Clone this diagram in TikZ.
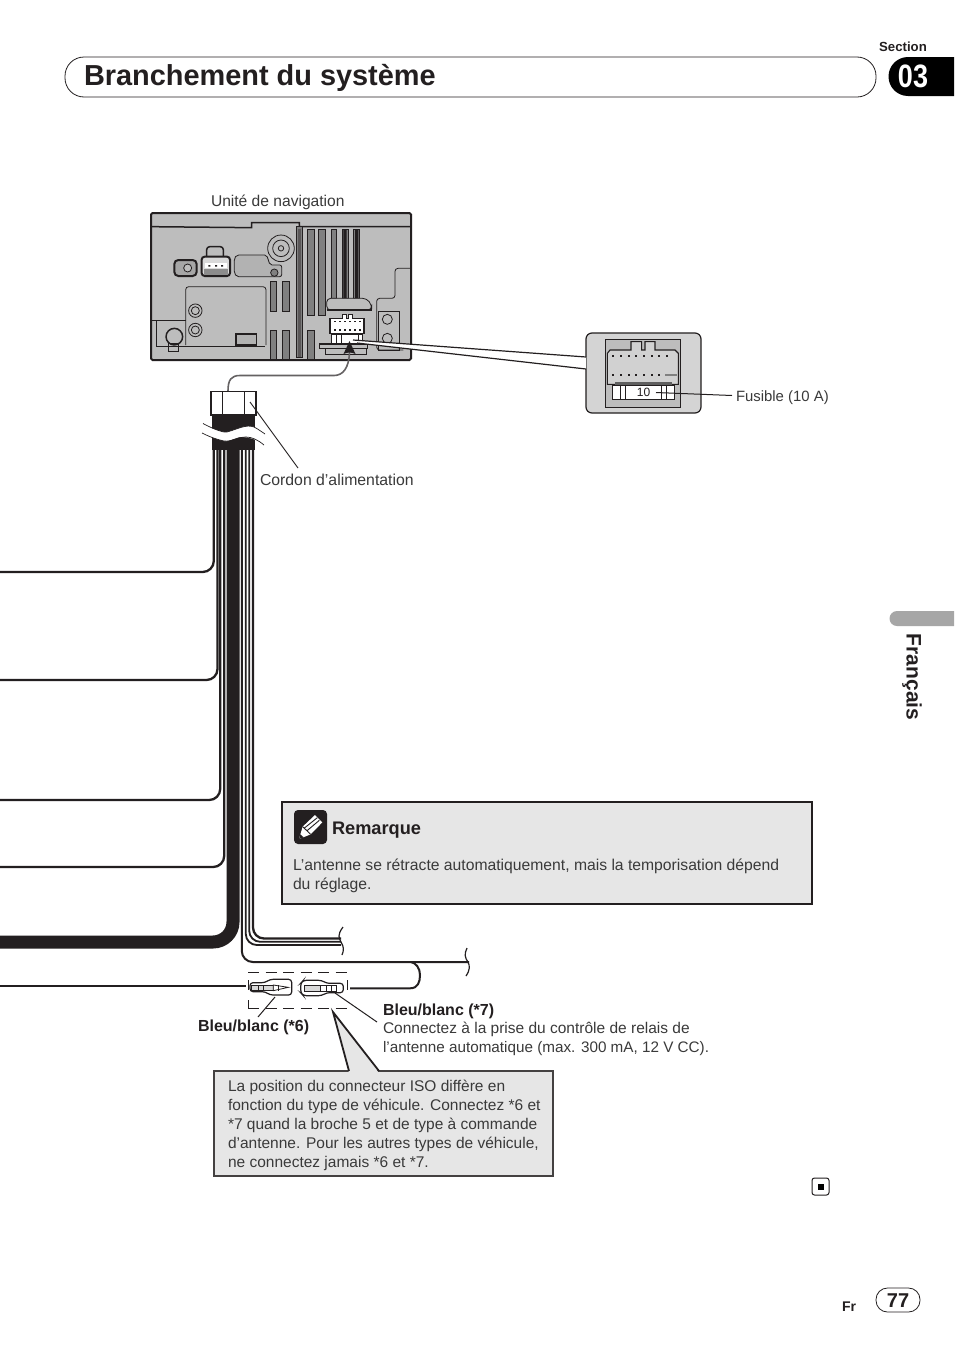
\documentclass[tikz,border=0pt]{standalone}
\usepackage{fontspec}
\setmainfont{Liberation Sans}
\definecolor{ink}{HTML}{231F20}
\definecolor{txt}{HTML}{3A3A3A}
\definecolor{plate}{HTML}{BDBDBD}
\definecolor{notegray}{HTML}{E6E6E6}
\definecolor{slotc}{HTML}{808080}
\newcommand{\fs}[1]{\fontsize{#1}{#1}\selectfont}
\tikzset{
 every node/.style={outer sep=0pt},
 lab/.style={anchor=base west,yshift=-5.5pt,inner sep=0pt,text=txt,font=\fs{15.5}},
 blab/.style={anchor=base west,yshift=-5.5pt,inner sep=0pt,text=ink,font=\fs{16}\bfseries},
 wire/.style={draw=ink,line width=2.3pt,rounded corners=11pt},
 thin line/.style={draw=ink,line width=1pt},
 slot/.style={draw=ink,line width=1pt,fill=slotc},
 dev/.style={draw=ink,line width=.8pt},
 devb/.style={draw=ink,line width=1.5pt},
}
\begin{document}
\begin{tikzpicture}[x=1pt,y=-1pt]
\useasboundingbox (0,0) rectangle (954,1352);
\fill[white] (0,0) rectangle (954,1352);
% header
\node[draw=ink,line width=.8pt,rounded corners=19pt,minimum width=811pt,minimum height=40pt,anchor=north west,inner sep=0pt] (titlebar) at (65,57) {};
\node[anchor=base west,inner sep=0pt,text=ink,font=\fs{28.9}\bfseries] (title) at (84,85.5) {Branchement du système};
\fill[black] (954,57) -- (908,57) arc[start angle=90,end angle=270,radius=19.5pt] -- (954,96) -- cycle;
\node[inner sep=0pt,text=white,font=\fs{27}\bfseries] (secnum) at (913,76) {\scalebox{1}[1.2]{03}};
\node[inner sep=0pt,text=ink,font=\fs{13.2}\bfseries] (sec) at (903,46.5) {Section};
% side tab
\fill[black!35] (954,611) -- (897,611) arc[start angle=90,end angle=270,radius=7.5pt] -- (954,626) -- cycle;
\node[inner sep=0pt,rotate=-90,text=ink,font=\fs{21}\bfseries] (lang) at (912,677) {Français};
% device
\node[draw=ink,line width=2pt,fill=plate,rounded corners=1.5pt,minimum width=260pt,minimum height=147pt,anchor=north west,inner sep=0pt] (device) at (151,213) {};
\node[lab,font=\fs{15.6}] (unit) at (211,201) {Unité de navigation};
\begin{scope}[shift={(140,200)},x=.33333pt,y=-.33333pt]
 \draw[devb] (33,80) -- (335,83) -- (335,68) -- (478,68) -- (478,80) -- (812,80);
 \foreach \a/\b/\c/\d in {470/487/80/472,503/523/88/345,535/555/88/345,573/590/88/295,607/625/88/295,640/658/88/295,503/523/390/478,390/410/243/333,427/447/243/333,390/410/390/478,427/447/390/478}
   \draw[slot] (\a,\c) rectangle (\b,\d);
 \fill[ink!75] (473,88) rectangle (484,470);
 \fill[ink] (610,88) rectangle (620,295) (645,88) rectangle (655,295);
 \draw[dev] (423,145) circle[radius=13.3pt];
 \draw[dev] (423,145) circle[radius=8.3pt];
 \draw[dev] (423,145) circle[radius=2.7pt];
 \draw[dev,fill=black!30,rounded corners=2pt] (283,175) -- (290,165) -- (380,165) -- (390,195) -- (425,195) -- (425,230) -- (290,230) -- (283,220) -- cycle;
 \draw[dev,fill=slotc] (403,218) circle[radius=3.7pt];
 \draw[devb,rounded corners=3pt] (200,170) -- (200,140) -- (250,140) -- (250,170);
 \draw[draw=ink,line width=2pt,fill=black!15,rounded corners=3pt] (185,170) rectangle (270,228);
 \fill[white] (195,190) rectangle (262,205);
 \fill[ink] (205,195) rectangle (211,200) (225,195) rectangle (231,200) (243,195) rectangle (249,200);
 \fill[black!45] (192,208) rectangle (263,224);
 \draw[draw=ink,line width=2pt,fill=black!35,rounded corners=4pt] (103,180) rectangle (170,228);
 \draw[dev,fill=plate] (143,204) circle[radius=4pt];
 \draw[dev,rounded corners=3pt] (137,435) -- (137,260) -- (378,260) -- (378,435);
 \draw[dev] (33,362) -- (137,362);
 \draw[dev] (48,362) -- (48,438) -- (375,438);
 \foreach \p in {332,390}{\draw[dev,fill=plate] (166,\p) circle[radius=6.7pt]; \draw[dev] (166,\p) circle[radius=4pt];}
 \draw[devb,fill=plate] (103,410) circle[radius=8.3pt];
 \draw[dev] (85,430) rectangle (115,455);
 \draw[draw=ink,line width=1.5pt,fill=black!30] (288,402) rectangle (350,435);
 \draw[dev,rounded corners=3pt] (812,205) -- (765,205) -- (765,295) -- (710,295) -- (710,450) -- (790,450);
 \draw[dev] (715,335) rectangle (778,450);
 \foreach \p in {358,415}{\draw[dev,fill=plate] (742,\p) circle[radius=5pt];}
 \draw[dev,fill=plate,rounded corners=4pt] (560,330) -- (560,295) -- (680,295) -- (695,315) -- (695,330) -- cycle;
 \draw[draw=ink,line width=1.5pt] (560,330) -- (695,330);
 \draw[draw=ink,line width=1.5pt,fill=white] (570,355) -- (607,355) -- (607,343) -- (620,343) -- (620,355) -- (625,355) -- (625,343) -- (638,343) -- (638,355) -- (672,355) -- (672,400) -- (570,400) -- cycle;
 \foreach \p in {585,600,...,660}{\fill[ink] (\p-2,362) rectangle (\p+2,367); \fill[ink] (\p-2,388) rectangle (\p+2,393);}
 \draw[dev,fill=white] (575,402) rectangle (668,430);
 \foreach \p in {590,605,655}{\draw[dev] (\p,402) -- (\p,430);}
 \draw[devb,fill=plate] (538,432) rectangle (683,445);
 \draw[dev] (555,445) rectangle (680,462);
\end{scope}
% callout wedge
\coordinate (wa) at (353,340);
\coordinate (wb) at (357,343);
\coordinate (wc) at (586,357);
\coordinate (wd) at (586,369);
% fuse callout
\node[draw=ink,line width=1.2pt,fill=black!17,rounded corners=6pt,minimum width=115pt,minimum height=80pt,anchor=north west,inner sep=0pt] (callout) at (586,333) {};
\fill[white] (wa) -- (wc) -- (wd) -- (wb) -- cycle;
\draw[draw=ink,line width=1.2pt] (wa) -- (wc) (wb) -- (wd);
\begin{scope}[shift={(570,325)},x=.33333pt,y=-.33333pt]
 \draw[draw=ink,line width=.8pt,fill=plate] (107,43) rectangle (332,247);
 \draw[draw=ink,line width=1.1pt,fill=plate!70!white] (112,85) -- (120,75) -- (183,75) -- (183,50) -- (215,50) -- (215,75) -- (225,75) -- (225,50) -- (255,50) -- (255,75) -- (315,75) -- (325,85) -- (325,178) -- (112,178) -- cycle;
 \foreach \p in {130,153,176,199,222,245,268,291}{\fill[ink] (\p-3,90) rectangle (\p+3,96); \fill[ink] (\p-3,147) rectangle (\p+3,153);}
 \fill[slotc] (285,147) rectangle (320,153);
 \fill[plate!50!black] (135,170) rectangle (305,180);
 \draw[draw=ink,line width=.8pt,fill=white] (127,180) rectangle (312,222);
 \foreach \p in {150,165,275,288}{\draw[draw=ink,line width=.8pt] (\p,180) -- (\p,222);}
\end{scope}
\node[inner sep=0pt,text=ink,font=\fs{12}\rmfamily] (ten) at (643.5,392.5) {10};
\coordinate (fuseend) at (732,395.5);
\draw[thin line] (656,392.5) -- (fuseend);
\node[lab,font=\fs{14.9}] (fusible) at (736,396) {Fusible (10 A)};
% harness
\fill[ink] (212,415) rectangle (255,450);
\fill[white] (200,423.5) .. controls (215,430) and (225,433) .. (227,432) .. controls (238,429) and (246,424) .. (254,427) .. controls (258,429) and (262,432) .. (265,434)
 -- (264,445) .. controls (258,440) and (250,437) .. (240,437) .. controls (232,439) and (228,442) .. (224,441) .. controls (215,439) and (208,436) .. (202,433) -- cycle;
\draw[draw=ink,line width=.7pt] (203,423.5) .. controls (215,430) and (225,433) .. (227,432) .. controls (238,429) and (246,424) .. (254,427) .. controls (258,429) and (262,432) .. (265,434);
\draw[draw=ink,line width=.7pt] (202,433) .. controls (208,436) and (215,439) .. (224,441) .. controls (232,442) and (238,437) .. (246,437) .. controls (252,437) and (258,440) .. (264,445);
\node[draw=ink,line width=1.5pt,fill=white,minimum width=45pt,minimum height=23.5pt,anchor=north west,inner sep=0pt] (plug) at (211,391.5) {};
\draw[draw=ink,line width=1pt] (222,391.5) -- (222,415) (244,391.5) -- (244,415);
\coordinate (arrowtip) at (349.5,341);
\draw[draw=ink!70,line width=1.6pt] (228,391) .. controls (228,380) and (231,375.5) .. (240,375.5) -- (334,375.5) .. controls (343,375.5) and (349,368) .. (349.5,352);
\fill[ink] (arrowtip) -- (355.5,354) .. controls (351,352) and (348,352) .. (343.5,354) -- cycle;
\coordinate (cordonend) at (298,468);
\draw[draw=ink,line width=.9pt] (250,402) -- (cordonend);
\node[lab,font=\fs{15.8}] (cordon) at (260,480) {Cordon d'alimentation};
% wires
\coordinate (left1) at (0,572);
\coordinate (left2) at (0,680);
\coordinate (left3) at (0,800);
\coordinate (left4) at (0,867);
\draw[wire] (213.8,449) -- (213.8,572) -- (left1);
\draw[wire] (217.5,449) -- (217.5,680) -- (left2);
\draw[wire] (220.2,449) -- (220.2,800) -- (left3);
\draw[wire] (224.2,449) -- (224.2,867) -- (left4);
\coordinate (left5) at (0,942);
\draw[draw=ink,line width=13pt,rounded corners=20pt] (233,449) -- (233,942) -- (left5);
\coordinate (c1) at (341,938.5);
\coordinate (c2) at (341,941.8);
\coordinate (c3) at (341,945);
\draw[wire] (253,449) -- (253,938.5) -- (c1);
\draw[wire,line width=1.8pt] (249.2,449) -- (249.2,941.8) -- (c2);
\draw[wire,line width=1.8pt] (245.8,449) -- (245.8,945) -- (c3);
\draw[draw=ink,line width=1.2pt] (343,927) .. controls (337,935) and (339,938) .. (341,942) .. controls (344,947) and (344,950) .. (342,955);
\coordinate (c4) at (469,962);
\draw[wire,line width=2pt] (241.8,449) -- (241.8,962) -- (c4);
\draw[draw=ink,line width=1.2pt] (467,948) .. controls (464,954) and (465,958) .. (468,962) .. controls (470,966) and (470,970) .. (466,976);
\coordinate (rj) at (350,988.3);
\draw[draw=ink,line width=2pt] (rj) -- (410,988.3) .. controls (418,988.3) and (420,982) .. (420,975) .. controls (420,968) and (416,963) .. (411,962);
\coordinate (lj) at (0,985.7);
\coordinate (lj2) at (246,985.7);
\draw[draw=ink,line width=2pt] (lj) -- (lj2);
% connectors
\draw[draw=ink,line width=.9pt,dash pattern=on 11pt off 6.5pt] (248,972) -- (347,972);
\draw[draw=ink,line width=.9pt,dash pattern=on 11pt off 6.5pt] (248,1008) -- (347,1008);
\draw[draw=ink,line width=.9pt] (248,980) -- (248,990) (248,1000) -- (248,1008) (347.5,980) -- (347.5,990);
\begin{scope}[shift={(180,900)},x=.33333pt,y=-.33333pt]
 \draw[draw=ink,line width=1.2pt,fill=white,rounded corners=3pt] (210,248) -- (255,248) -- (270,238) -- (335,238) -- (335,285) -- (270,285) -- (255,275) -- (210,275) -- cycle;
 \draw[draw=ink,line width=.8pt,fill=black!15] (215,255) rectangle (280,272);
 \draw[draw=ink,line width=.8pt,fill=white] (280,255) -- (325,262) -- (280,272) -- cycle;
 \draw[draw=ink,line width=.8pt] (235,255) -- (235,272) (250,255) -- (250,272) (295,255) -- (295,272);
 \draw[draw=ink,line width=1.2pt,fill=white,rounded corners=3pt] (362,250) -- (370,241) -- (425,241) -- (440,250) -- (490,250) -- (490,278) -- (440,278) -- (425,287) -- (370,287) -- (362,278) -- cycle;
 \draw[draw=ink,line width=.8pt,fill=black!15] (372,255) rectangle (420,275);
 \draw[draw=ink,line width=.8pt] (420,255) -- (470,255) -- (470,275) -- (420,275) (440,255) -- (440,275) (455,255) -- (455,275);
\end{scope}
\draw[thin line] (275,997) -- (258,1017);
\draw[thin line] (335,993) -- (377,1022);
\node[blab] (b6) at (198,1025.5) {Bleu/blanc (*6)};
\node[blab] (b7) at (383,1009.5) {Bleu/blanc (*7)};
\node[lab] (b7a) at (383,1028) {Connectez à la prise du contrôle de relais de};
\node[lab,font=\fs{15.25}] (b7b) at (383,1047) {l'antenne automatique (max. 300 mA, 12 V CC).};
% note box
\node[draw=ink!85,line width=1.8pt,fill=notegray,minimum width=339pt,minimum height=105pt,anchor=north west,inner sep=0pt] (note) at (214,1071) {};
\coordinate (apex) at (333,1012);
\fill[notegray] (apex) -- (349,1073) -- (379,1073) -- cycle;
\draw[draw=ink,line width=1.8pt] (349,1071) -- (apex) -- (379,1071);
\node[lab] (n1) at (228,1086) {La position du connecteur ISO diffère en};
\node[lab] (n2) at (228,1105) {fonction du type de véhicule. Connectez *6 et};
\node[lab] (n3) at (228,1124) {*7 quand la broche 5 et de type à commande};
\node[lab] (n4) at (228,1143) {d'antenne. Pour les autres types de véhicule,};
\node[lab] (n5) at (228,1162) {ne connectez jamais *6 et *7.};
% remark box
\node[draw=ink,line width=2pt,fill=notegray,minimum width=530pt,minimum height=102pt,anchor=north west,inner sep=0pt] (remark) at (282,802) {};
\node[fill=ink,rounded corners=4pt,minimum width=33pt,minimum height=34pt,anchor=north west,inner sep=0pt] (pencilbox) at (294,810) {};
\begin{scope}[shift={(280,795)},x=.33333pt,y=-.33333pt]
 \fill[white] (57,132) -- (68,95) -- (105,60) -- (127,82) -- (92,118) -- cycle;
 \draw[draw=ink,line width=.9pt] (72,100) -- (112,68) (80,108) -- (118,76) (68,95) -- (92,118);
 \fill[ink] (57,132) -- (61,118) -- (71,127) -- cycle;
\end{scope}
\node[blab,font=\fs{18.2}\bfseries,yshift=-.8pt] (remtitle) at (332,828.5) {Remarque};
\node[lab,font=\fs{15.7}] (rem1) at (293,865) {L'antenne se rétracte automatiquement, mais la temporisation dépend};
\node[lab,font=\fs{15.7}] (rem2) at (293,884) {du réglage.};
% footer
\node[draw=ink,line width=1pt,rounded corners=2.5pt,minimum width=17pt,minimum height=17pt,anchor=north west,inner sep=0pt] (endmark) at (812,1178) {};
\node[fill=black,minimum width=6pt,minimum height=6pt,inner sep=0pt] (endsq) at (820.5,1186.5) {};
\node[inner sep=0pt,text=ink,font=\fs{14}\bfseries] (fr) at (849,1307) {Fr};
\node[draw=ink,line width=.8pt,rounded corners=11.5pt,minimum width=44pt,minimum height=24pt,inner sep=0pt] (pageoval) at (898,1300) {};
\node[inner sep=0pt,text=ink,font=\fs{20}\bfseries] (page) at (898,1300.5) {77};
\end{tikzpicture}
\end{document}
